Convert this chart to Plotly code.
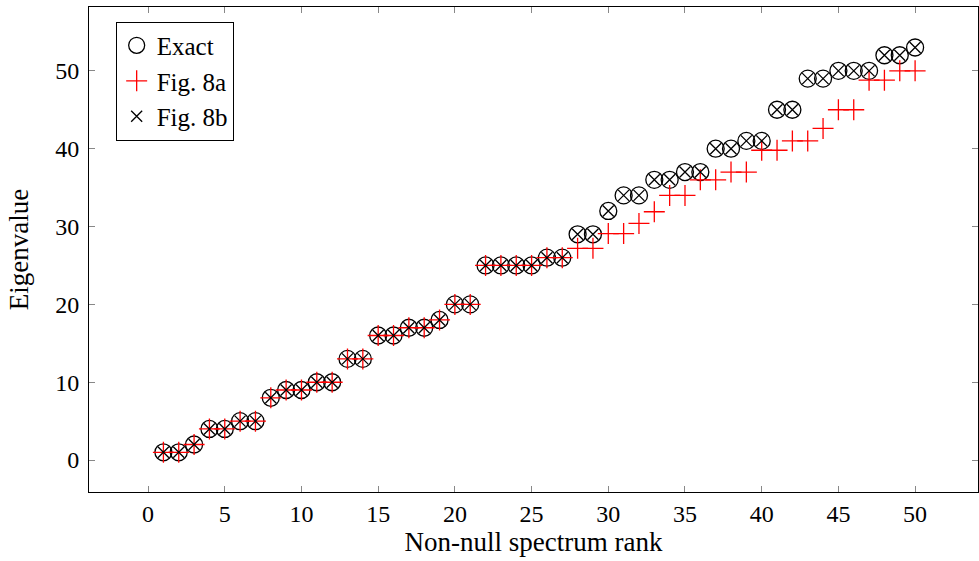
import plotly.graph_objects as go

rank = list(range(1, 51))
exact = [1, 1, 2, 4, 4, 5, 5, 8, 9, 9, 10, 10, 13, 13, 16, 16, 17, 17, 18, 20,
         20, 25, 25, 25, 25, 26, 26, 29, 29, 32, 34, 34, 36, 36, 37, 37, 40, 40, 41, 41,
         45, 45, 49, 49, 50, 50, 50, 52, 52, 53]
fig8a = [1, 1, 2, 4, 4, 5, 5, 8, 9, 9, 10, 10, 13, 13, 16, 16, 17, 17, 18, 20,
         20, 25, 25, 25, 25, 26, 26, 27.2, 27.2, 29.1, 29.1, 30.4, 31.9, 34.0, 34.0, 36.0, 36.0, 37.0, 37.0, 39.8,
         39.8, 41.0, 41.0, 42.6, 45.0, 45.0, 48.8, 48.8, 50.0, 50.0]
fig8b = list(exact)

xticks = [0, 5, 10, 15, 20, 25, 30, 35, 40, 45, 50]
yticks = [0, 10, 20, 30, 40, 50]

font_family = "Liberation Serif, DejaVu Serif, serif"

fig = go.Figure()
fig.add_trace(go.Scatter(
    x=rank, y=exact, mode="markers", name="Exact",
    marker=dict(symbol="circle-open", size=17, color="black",
                line=dict(width=1.3, color="black"))))
fig.add_trace(go.Scatter(
    x=rank, y=fig8a, mode="markers", name="Fig. 8a",
    marker=dict(symbol="cross-thin-open", size=15, color="red",
                line=dict(width=1.3, color="red"))))
fig.add_trace(go.Scatter(
    x=rank, y=fig8b, mode="markers", name="Fig. 8b",
    marker=dict(symbol="x-thin-open", size=11, color="black",
                line=dict(width=1.3, color="black"))))

axis_common = dict(
    showgrid=False, zeroline=False, showline=True, linecolor="black", linewidth=1,
    mirror="ticks", ticks="inside", ticklen=6, tickcolor="#888888", tickwidth=1,
    tickfont=dict(family=font_family, size=24, color="black"),
)

fig.update_layout(
    width=979, height=561,
    margin=dict(l=89, r=1, t=7, b=69),
    paper_bgcolor="white", plot_bgcolor="white",
    font=dict(family=font_family, size=24, color="black"),
    xaxis=dict(range=[-3.85, 54.1], tickvals=xticks,
               title=dict(text="Non-null spectrum rank", font=dict(family=font_family, size=27), standoff=6),
               **axis_common),
    yaxis=dict(range=[-4.1, 58.2], tickvals=yticks, ticklabelstandoff=4,
               title=dict(text="Eigenvalue", font=dict(family=font_family, size=27), standoff=18),
               **axis_common),
    legend=dict(x=0.03, y=0.97, xanchor="left", yanchor="top",
                bordercolor="black", borderwidth=1, bgcolor="white",
                font=dict(family=font_family, size=25), itemwidth=30,
                tracegroupgap=0),
    showlegend=True,
)

fig.write_html("out.html",
               config={"displayModeBar": False},
               post_script="document.body.style.margin='0';document.body.style.overflow='hidden';")
